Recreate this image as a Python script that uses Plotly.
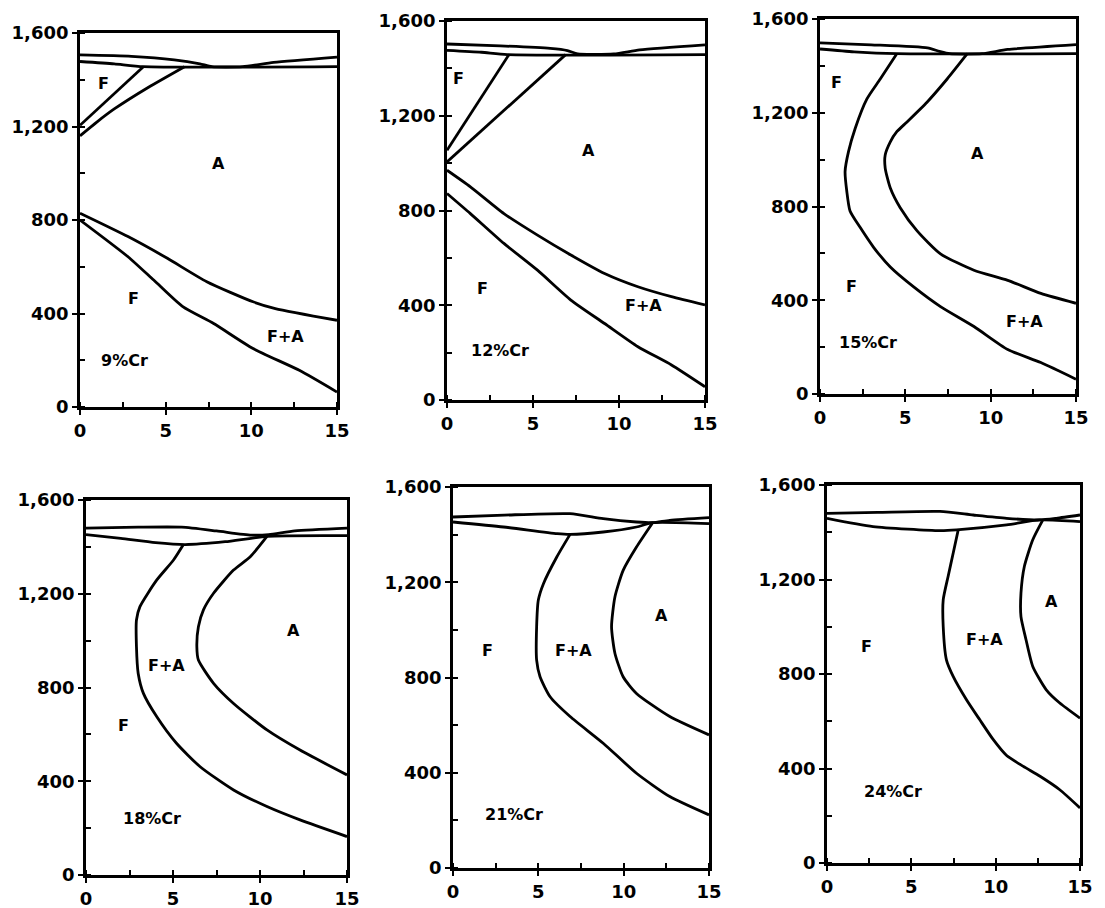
import plotly.graph_objects as go

# The page body has a default 8px margin, so the figure is sized to fill the rest of the window.
PAGE_W, PAGE_H = 1105, 908
OFF = 8
W, H = PAGE_W - OFF, PAGE_H - OFF

# ---------------- data ----------------
# Panel 1: 9%Cr
p1_top_upper_x = [0, 3.0, 5.5, 7.0, 7.7, 9.5, 11.3, 15]
p1_top_upper_y = [1506, 1500, 1485, 1468, 1456, 1456, 1474, 1497]
p1_top_lower_x = [0, 2.0, 3.7, 15]
p1_top_lower_y = [1478, 1468, 1456, 1456]
p1_fa_x = [0, 3.7]
p1_fa_y = [1205, 1456]
p1_fb_x = [0, 1, 2, 4, 6.1]
p1_fb_y = [1160, 1220, 1275, 1368, 1456]
p1_a_x = [0, 2.8, 5.1, 7.4, 10.1, 11.4, 15]
p1_a_y = [829, 729, 636, 536, 450, 421, 371]
p1_f_x = [0, 2.8, 4.3, 6.0, 7.8, 10.1, 12.8, 15]
p1_f_y = [800, 643, 543, 429, 357, 250, 157, 64]

# Panel 2: 12%Cr
p2_top_upper_x = [0, 3.1, 6.0, 7.0, 7.6, 9.7, 11.2, 15]
p2_top_upper_y = [1503, 1495, 1484, 1475, 1461, 1461, 1478, 1499]
p2_top_lower_x = [0, 2.0, 3.5, 15]
p2_top_lower_y = [1476, 1468, 1458, 1458]
p2_fa_x = [0, 3.6]
p2_fa_y = [1054, 1458]
p2_fb_x = [0, 6.9]
p2_fb_y = [1005, 1458]
p2_a_x = [0, 1.36, 3.31, 5.26, 7.2, 9.16, 11.1, 13.05, 15]
p2_a_y = [970, 900, 787, 696, 612, 534, 478, 436, 401]
p2_f_x = [0, 1.36, 3.31, 5.26, 7.2, 9.16, 11.1, 13.05, 15]
p2_f_y = [872, 787, 661, 548, 422, 323, 225, 148, 56]

# Panel 3: 15%Cr
p3_top_upper_x = [0, 3, 6.3, 7.0, 7.6, 9.5, 11, 15]
p3_top_upper_y = [1498, 1490, 1477, 1462, 1452, 1452, 1470, 1491]
p3_top_lower_x = [0, 2.0, 4.5, 15]
p3_top_lower_y = [1472, 1460, 1452, 1452]
p3_f_x = [4.5, 3.53, 2.75, 2.06, 1.67, 1.47, 1.57, 1.76, 2.35, 3.14, 4.12, 5.49, 7.06, 9.02, 11.0, 12.94, 15]
p3_f_y = [1452, 1344, 1259, 1133, 1034, 950, 865, 781, 711, 626, 542, 457, 373, 288, 190, 134, 63]
p3_a_x = [8.63, 7.45, 6.27, 5.1, 4.5, 4.12, 3.82, 3.82, 4.12, 4.7, 5.69, 7.06, 9.02, 11.0, 12.94, 15]
p3_a_y = [1452, 1344, 1245, 1161, 1119, 1076, 1020, 964, 879, 795, 696, 598, 528, 485, 429, 387]

# Panel 4: 18%Cr
p4_top_upper_x = [0, 3, 5.5, 7.5, 9.5, 10.5, 12, 15]
p4_top_upper_y = [1480, 1484, 1484, 1468, 1450, 1452, 1468, 1480]
p4_top_lower_x = [0, 2, 4, 5.7, 8, 10.4, 15]
p4_top_lower_y = [1452, 1436, 1418, 1410, 1422, 1445, 1448]
p4_f_x = [5.6, 5.03, 4.07, 3.1, 2.9, 2.9, 3.0, 3.3, 4.07, 5.2, 6.56, 8.48, 10.4, 12.3, 15]
p4_f_y = [1410, 1344, 1259, 1145, 1088, 974, 860, 775, 675, 562, 462, 363, 292, 235, 164]
p4_a_x = [10.4, 9.44, 8.48, 7.33, 6.75, 6.46, 6.37, 6.46, 7.33, 8.48, 10.4, 12.3, 15]
p4_a_y = [1445, 1358, 1301, 1202, 1131, 1059, 974, 917, 818, 732, 619, 533, 427]

# Panel 5: 21%Cr
p5_top_upper_x = [0, 3, 6.86, 8.8, 10.75, 11.7, 12.7, 15]
p5_top_upper_y = [1474, 1482, 1488, 1467, 1453, 1450, 1460, 1471]
p5_top_lower_x = [0, 2.96, 6.1, 6.86, 8.8, 10.75, 11.7, 15]
p5_top_lower_y = [1453, 1432, 1404, 1401, 1411, 1432, 1450, 1446]
p5_f_x = [6.86, 6.08, 5.3, 5.0, 4.9, 4.9, 5.1, 5.69, 6.86, 8.8, 10.75, 12.7, 15]
p5_f_y = [1401, 1306, 1194, 1125, 1013, 873, 803, 719, 636, 524, 398, 300, 223]
p5_a_x = [11.7, 10.75, 9.97, 9.49, 9.29, 9.49, 9.97, 10.75, 12.7, 15]
p5_a_y = [1450, 1348, 1250, 1139, 1013, 901, 803, 733, 636, 559]

# Panel 6: 24%Cr
p6_top_upper_x = [0, 3, 6.7, 8.67, 10.65, 12.6, 13.6, 15]
p6_top_upper_y = [1480, 1484, 1488, 1473, 1459, 1452, 1459, 1473]
p6_top_lower_x = [0, 2.73, 6.7, 7.68, 10.65, 12.6, 15]
p6_top_lower_y = [1459, 1424, 1407, 1410, 1431, 1452, 1445]
p6_f_x = [7.78, 7.48, 7.18, 6.89, 6.89, 7.08, 7.48, 8.27, 9.06, 9.86, 10.65, 11.64, 12.63, 13.8, 15]
p6_f_y = [1410, 1311, 1213, 1114, 1001, 860, 790, 691, 606, 522, 455, 409, 367, 310, 233]
p6_a_x = [12.8, 12.2, 11.7, 11.5, 11.5, 11.8, 12.2, 13.0, 13.8, 15]
p6_a_y = [1452, 1368, 1255, 1142, 1043, 945, 832, 733, 677, 613]

# region labels per panel
p1_labels = ["F", "A", "F", "F+A", "9%Cr"]
p1_lx = [1.35, 8.1, 3.1, 12.0, 2.6]
p1_ly = [1386, 1043, 464, 300, 200]
p2_labels = ["F", "A", "F", "F+A", "12%Cr"]
p2_lx = [0.68, 8.2, 2.05, 11.4, 3.1]
p2_ly = [1357, 1054, 471, 401, 211]
p3_labels = ["F", "A", "F", "F+A", "15%Cr"]
p3_lx = [0.98, 9.2, 1.86, 12.0, 2.84]
p3_ly = [1330, 1027, 457, 310, 218]
p4_labels = ["F+A", "A", "F", "18%Cr"]
p4_lx = [4.64, 11.9, 2.15, 3.78]
p4_ly = [896, 1045, 640, 242]
p5_labels = ["F", "F+A", "A", "21%Cr"]
p5_lx = [2.0, 7.05, 12.2, 3.55]
p5_ly = [915, 915, 1062, 223]
p6_labels = ["F", "F+A", "A", "24%Cr"]
p6_lx = [2.33, 9.36, 13.3, 3.9]
p6_ly = [916, 945, 1107, 303]

x_ticks = [0, 5, 10, 15]
x_tick_text = ["0", "5", "10", "15"]
y_ticks = [0, 400, 800, 1200, 1600]
y_tick_text = ["0", "400", "800", "1,200", "1,600"]

# ---------------- figure ----------------
panels = [
    ([(p1_top_upper_x, p1_top_upper_y), (p1_top_lower_x, p1_top_lower_y), (p1_fa_x, p1_fa_y),
      (p1_fb_x, p1_fb_y), (p1_a_x, p1_a_y), (p1_f_x, p1_f_y)], (p1_labels, p1_lx, p1_ly)),
    ([(p2_top_upper_x, p2_top_upper_y), (p2_top_lower_x, p2_top_lower_y), (p2_fa_x, p2_fa_y),
      (p2_fb_x, p2_fb_y), (p2_a_x, p2_a_y), (p2_f_x, p2_f_y)], (p2_labels, p2_lx, p2_ly)),
    ([(p3_top_upper_x, p3_top_upper_y), (p3_top_lower_x, p3_top_lower_y),
      (p3_f_x, p3_f_y), (p3_a_x, p3_a_y)], (p3_labels, p3_lx, p3_ly)),
    ([(p4_top_upper_x, p4_top_upper_y), (p4_top_lower_x, p4_top_lower_y),
      (p4_f_x, p4_f_y), (p4_a_x, p4_a_y)], (p4_labels, p4_lx, p4_ly)),
    ([(p5_top_upper_x, p5_top_upper_y), (p5_top_lower_x, p5_top_lower_y),
      (p5_f_x, p5_f_y), (p5_a_x, p5_a_y)], (p5_labels, p5_lx, p5_ly)),
    ([(p6_top_upper_x, p6_top_upper_y), (p6_top_lower_x, p6_top_lower_y),
      (p6_f_x, p6_f_y), (p6_a_x, p6_a_y)], (p6_labels, p6_lx, p6_ly)),
]

# page-pixel boxes of the plot areas: (left, right, top, bottom)
boxes = [
    (80, 337, 33, 407),
    (447, 705, 21, 400),
    (820, 1076, 19, 394),
    (86, 347, 500, 875),
    (453, 709, 487, 868),
    (827, 1080, 485, 863),
]

FONT = "DejaVu Sans"
fig = go.Figure()
layout = dict(
    width=W, height=H, margin=dict(l=0, r=0, t=0, b=0, autoexpand=False),
    paper_bgcolor="white", plot_bgcolor="white", showlegend=False,
    font=dict(family=FONT, size=17, color="black"),
)
annotations = []

for i, (curves, (labs, lx, ly)) in enumerate(panels, start=1):
    xa = "x" if i == 1 else f"x{i}"
    ya = "y" if i == 1 else f"y{i}"
    for cx, cy in curves:
        fig.add_trace(go.Scatter(
            x=cx, y=cy, mode="lines", xaxis=xa, yaxis=ya, hoverinfo="skip",
            line=dict(color="black", width=2.8, shape="spline", smoothing=0.6),
        ))
    for t, tx, ty in zip(labs, lx, ly):
        annotations.append(dict(x=tx, y=ty, xref=xa, yref=ya, text=t, showarrow=False,
                                font=dict(family=FONT, size=16, color="black", weight="bold")))
    l, r, t_, b = [v - OFF for v in boxes[i - 1]]
    axis_common = dict(showgrid=False, zeroline=False, showline=True, mirror=True,
                       linecolor="black", linewidth=2.8, ticks="outside", ticklen=5,
                       tickwidth=2, tickcolor="black", automargin=False,
                       ticklabeloverflow="allow",
                       tickfont=dict(family=FONT, size=18, color="black", weight="bold"))
    layout["xaxis" if i == 1 else f"xaxis{i}"] = dict(
        axis_common, domain=[l / W, r / W], range=[0, 15], anchor=ya,
        tickmode="array", tickvals=x_ticks, ticktext=x_tick_text,
        minor=dict(dtick=2.5, tick0=0, ticks="inside", ticklen=5, tickwidth=2, tickcolor="black"),
    )
    layout["yaxis" if i == 1 else f"yaxis{i}"] = dict(
        axis_common, domain=[1 - b / H, 1 - t_ / H], range=[0, 1600], anchor=xa,
        tickmode="array", tickvals=y_ticks, ticktext=y_tick_text,
        minor=dict(dtick=200, tick0=0, ticks="inside", ticklen=5, tickwidth=2, tickcolor="black"),
    )

layout["annotations"] = annotations
fig.update_layout(**layout)
fig.write_html("out.html")
